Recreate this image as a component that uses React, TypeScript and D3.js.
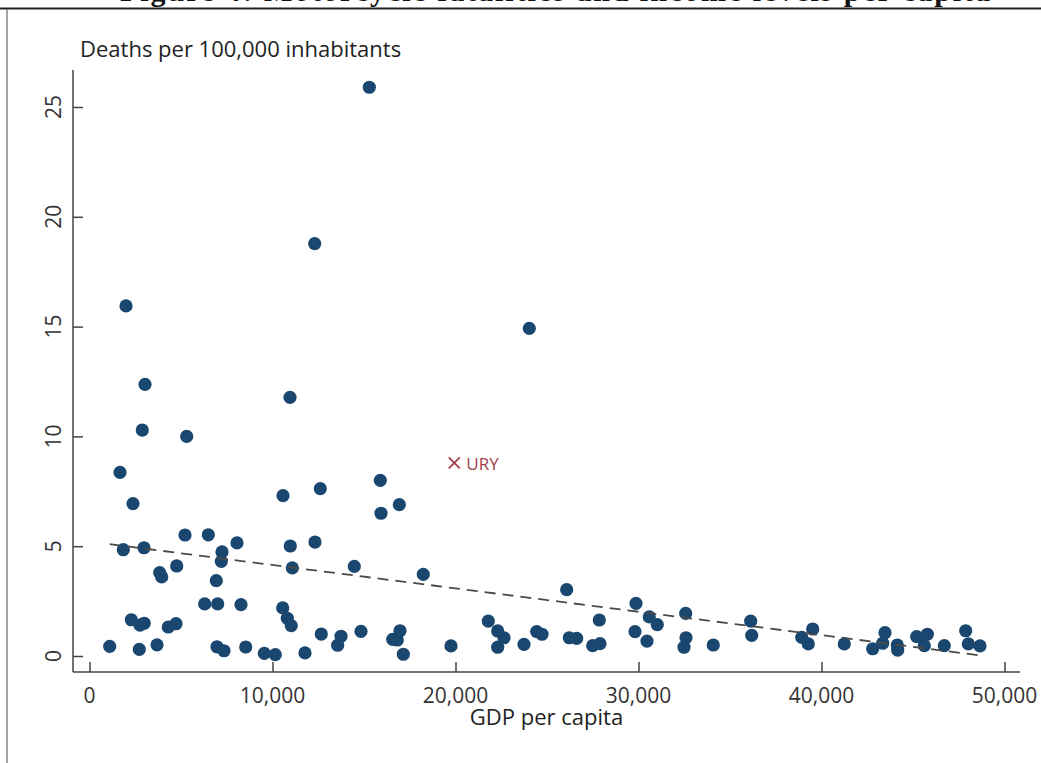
import React, { useEffect, useRef } from 'react';
import * as d3 from 'd3';

// GDP per capita and deaths per 100,000 inhabitants, one entry per country
const gdp = [
  1104, 1667, 1847, 1995, 2284, 2377, 2721, 2760, 2885, 2978,
  2990, 3033, 3689, 3835, 3945, 4306, 4727, 4765, 5219, 5311,
  6295, 6492, 6929, 6967, 7005, 7203, 7240, 7350, 8060, 8279,
  8536, 9552, 10153, 10557, 10574, 10809, 10956, 10973, 11027, 11083,
  11776, 12306, 12322, 12612, 12667, 13561, 13743, 14470, 14836, 15290,
  15891, 15929, 16568, 16820, 16930, 16967, 17148, 18240, 19754, 21792,
  22306, 22650, 22306, 23743, 24033, 24437, 24727, 26076, 26219, 26623,
  27497, 27858, 27896, 29809, 29863, 30464, 30590, 31027, 32486, 32579,
  32596, 34087, 36131, 36186, 38918, 39279, 39519, 41246, 42798, 43344,
  43470, 44142, 44164, 45202, 45618, 45782, 46710, 47880, 48022, 48661,
];
const deaths = [
  0.44, 8.36, 4.84, 15.94, 1.65, 6.94, 0.3, 1.41, 10.29, 4.93,
  1.49, 12.37, 0.51, 3.8, 3.6, 1.32, 1.47, 4.1, 5.51, 10.0,
  2.37, 5.52, 3.43, 0.42, 2.37, 4.31, 4.74, 0.24, 5.15, 2.34,
  0.41, 0.12, 0.06, 2.19, 7.3, 1.72, 11.78, 5.01, 1.38, 4.01,
  0.14, 18.78, 5.19, 7.62, 1.0, 0.49, 0.9, 4.08, 1.12, 25.9,
  8.0, 6.5, 0.76, 0.73, 6.89, 1.15, 0.08, 3.72, 0.46, 1.59,
  1.14, 0.83, 0.4, 0.53, 14.92, 1.11, 0.99, 3.02, 0.83, 0.8,
  0.47, 1.64, 0.56, 1.11, 2.4, 0.68, 1.78, 1.43, 0.4, 1.94,
  0.83, 0.5, 1.59, 0.94, 0.85, 0.55, 1.23, 0.55, 0.33, 0.58,
  1.06, 0.5, 0.27, 0.88, 0.47, 0.99, 0.47, 1.15, 0.55, 0.46,
];

// Uruguay, highlighted
const highlight = { label: 'URY', gdp: 19934, deaths: 8.79 };

// linear fit
const fitIntercept = 5.21;
const fitSlope = -0.0001065;

const xTicks = [0, 10000, 20000, 30000, 40000, 50000];
const yTicks = [0, 5, 10, 15, 20, 25];

const figureTitle = 'Figure 4: Motorcycle fatalities and income levels per capita';
const yTitle = 'Deaths per 100,000 inhabitants';
const xTitle = 'GDP per capita';

const App = () => {
  const chartRef = useRef<SVGSVGElement>(null);

  useEffect(() => {
    const width = 1041;
    const height = 763;
    const font = "'Open Sans', 'Noto Sans', sans-serif";

    const svg = d3.select(chartRef.current);
    svg.selectAll('*').remove();
    svg.attr('width', width).attr('height', height);

    const x = d3.scaleLinear().domain([0, 50000]).range([89.5, 1004.5]);
    const y = d3.scaleLinear().domain([0, 25]).range([656, 107]);
    const axisX = 73;
    const axisY = 672;

    // caption of the page above the figure, cut off at the top edge
    svg
      .append('text')
      .attr('x', 120)
      .attr('y', 1)
      .attr('font-family', "'Liberation Serif', 'DejaVu Serif', serif")
      .attr('font-weight', 'bold')
      .attr('font-size', 30)
      .attr('fill', '#111')
      .attr('textLength', 870)
      .text(figureTitle);

    // frame
    svg.append('line').attr('x1', 0).attr('x2', width).attr('y1', 8.5).attr('y2', 8.5)
      .attr('stroke', '#222').attr('stroke-width', 2);
    svg.append('line').attr('x1', 7).attr('x2', 7).attr('y1', 9).attr('y2', height)
      .attr('stroke', '#666').attr('stroke-width', 1.2);

    // y axis
    const yAxis = svg
      .append('g')
      .attr('transform', `translate(${axisX},0)`)
      .call(d3.axisRight(y).tickValues(yTicks).tickSize(10).tickFormat(() => ''));
    yAxis.select('.domain').remove();
    yAxis.selectAll('line').attr('stroke', '#444').attr('stroke-width', 1.5);
    svg.append('line').attr('x1', axisX).attr('x2', axisX).attr('y1', 70).attr('y2', axisY)
      .attr('stroke', '#444').attr('stroke-width', 1.5);

    svg
      .selectAll('.ylab')
      .data(yTicks)
      .enter()
      .append('text')
      .attr('class', 'ylab')
      .attr('transform', (d) => `translate(61,${y(d)}) rotate(-90)`)
      .attr('text-anchor', 'middle')
      .attr('font-family', font)
      .attr('font-size', 21)
      .attr('fill', '#333')
      .text((d) => d);

    // x axis
    const xAxis = svg
      .append('g')
      .attr('transform', `translate(0,${axisY})`)
      .call(d3.axisTop(x).tickValues(xTicks).tickSize(10).tickFormat(() => ''));
    xAxis.select('.domain').remove();
    xAxis.selectAll('line').attr('stroke', '#444').attr('stroke-width', 1.5);
    svg.append('line').attr('x1', axisX).attr('x2', 1020).attr('y1', axisY).attr('y2', axisY)
      .attr('stroke', '#444').attr('stroke-width', 1.5);

    svg
      .selectAll('.xlab')
      .data(xTicks)
      .enter()
      .append('text')
      .attr('class', 'xlab')
      .attr('x', (d) => x(d))
      .attr('y', 703)
      .attr('text-anchor', 'middle')
      .attr('font-family', font)
      .attr('font-size', 21)
      .attr('fill', '#333')
      .text((d) => d3.format(',')(d));

    // titles
    svg.append('text').attr('x', 80).attr('y', 57)
      .attr('font-family', font).attr('font-size', 22).attr('fill', '#222')
      .text(yTitle);
    svg.append('text').attr('x', (axisX + 1020) / 2).attr('y', 725)
      .attr('text-anchor', 'middle')
      .attr('font-family', font).attr('font-size', 22).attr('fill', '#222')
      .text(xTitle);

    // points
    const pts = gdp.map((g, i) => ({ g, d: deaths[i] }));
    svg
      .selectAll('.pt')
      .data(pts)
      .enter()
      .append('circle')
      .attr('class', 'pt')
      .attr('cx', (p) => x(p.g))
      .attr('cy', (p) => y(p.d))
      .attr('r', 6.6)
      .attr('fill', '#1a476f');

    // fitted line
    const [gMin, gMax] = d3.extent(gdp) as [number, number];
    const line = d3
      .line<number>()
      .x((g) => x(g))
      .y((g) => y(fitIntercept + fitSlope * g));
    svg
      .append('path')
      .attr('d', line([gMin, gMax]))
      .attr('fill', 'none')
      .attr('stroke', '#4a4a4a')
      .attr('stroke-width', 1.8)
      .attr('stroke-dasharray', '11,7');

    // highlighted country
    const hx = x(highlight.gdp);
    const hy = y(highlight.deaths);
    const s = 5.5;
    svg.append('path')
      .attr('d', `M${hx - s},${hy - s}L${hx + s},${hy + s}M${hx - s},${hy + s}L${hx + s},${hy - s}`)
      .attr('stroke', '#a0404c').attr('stroke-width', 1.8);
    svg.append('text').attr('x', hx + 12).attr('y', hy + 7)
      .attr('font-family', font).attr('font-size', 17).attr('fill', '#a0404c')
      .text(highlight.label);

    return () => {
      d3.select(chartRef.current).selectAll('*').remove();
    };
  }, []);

  return (
    <svg
      ref={chartRef}
      style={{ position: 'absolute', left: 0, top: 0, display: 'block', background: '#fff' }}
    />
  );
};

export default App;
